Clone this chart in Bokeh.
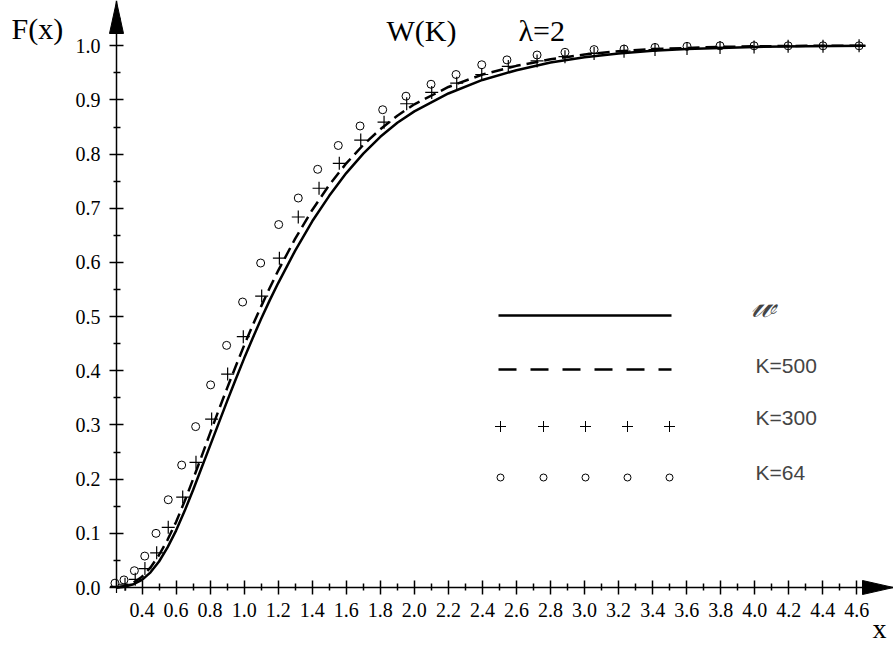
from bokeh.plotting import figure
from bokeh.models import Range1d, FixedTicker, LinearAxis, Label
from bokeh.embed import file_html
from bokeh.resources import INLINE

# ---------------- data ----------------
# limit distribution W
x_w = [0.25, 0.30, 0.35, 0.40, 0.45, 0.50, 0.55, 0.60, 0.65, 0.70, 0.75, 0.80, 0.85, 0.90,
       0.95, 1.00, 1.05, 1.10, 1.15, 1.20, 1.30, 1.40, 1.50, 1.60, 1.70, 1.80, 1.90, 2.00,
       2.20, 2.40, 2.60, 2.80, 3.00, 3.20, 3.40, 3.60, 3.80, 4.00, 4.30, 4.65]
y_w = [0.000, 0.002, 0.006, 0.014, 0.028, 0.048, 0.074, 0.105, 0.141, 0.180, 0.221, 0.262,
       0.303, 0.344, 0.384, 0.423, 0.460, 0.496, 0.530, 0.562, 0.622, 0.676, 0.723, 0.765,
       0.801, 0.832, 0.858, 0.879, 0.912, 0.937, 0.955, 0.969, 0.979, 0.986, 0.991, 0.994,
       0.996, 0.998, 0.999, 1.000]
# K = 500 (dashed)
y_k500 = [0.000, 0.003, 0.009, 0.020, 0.037, 0.060, 0.088, 0.121, 0.159, 0.200, 0.242, 0.285,
          0.327, 0.368, 0.408, 0.447, 0.484, 0.519, 0.553, 0.585, 0.644, 0.697, 0.743, 0.783,
          0.817, 0.846, 0.871, 0.892, 0.924, 0.947, 0.963, 0.975, 0.984, 0.990, 0.994, 0.996,
          0.998, 0.999, 1.000, 1.000]
# K = 300 (plus markers)
x_k300 = [0.25, 0.30, 0.36, 0.417, 0.486, 0.554, 0.639, 0.717, 0.809, 0.903, 0.995, 1.103,
          1.207, 1.318, 1.44, 1.559, 1.685, 1.822, 1.955, 2.102, 2.249, 2.396, 2.552, 2.721,
          2.885, 3.056, 3.232, 3.414, 3.602, 3.796, 3.996, 4.196, 4.401, 4.613]
y_k300 = [0.002, 0.006, 0.015, 0.035, 0.064, 0.111, 0.167, 0.231, 0.311, 0.394, 0.463, 0.538,
          0.608, 0.684, 0.737, 0.783, 0.826, 0.859, 0.893, 0.914, 0.931, 0.947, 0.962, 0.972,
          0.980, 0.986, 0.990, 0.993, 0.995, 0.997, 0.998, 0.999, 0.999, 1.000]
# K = 64 (circle markers)
x_k64 = [0.241, 0.294, 0.355, 0.416, 0.482, 0.554, 0.633, 0.715, 0.803, 0.897, 0.991, 1.097,
         1.203, 1.318, 1.432, 1.553, 1.681, 1.814, 1.951, 2.098, 2.245, 2.396, 2.544, 2.721,
         2.885, 3.056, 3.232, 3.414, 3.602, 3.796, 3.996, 4.196, 4.401, 4.613]
y_k64 = [0.008, 0.014, 0.031, 0.058, 0.100, 0.162, 0.226, 0.297, 0.374, 0.447, 0.527, 0.599,
         0.670, 0.719, 0.772, 0.816, 0.852, 0.882, 0.907, 0.929, 0.947, 0.965, 0.974, 0.983,
         0.988, 0.993, 0.994, 0.997, 0.999, 1.000, 1.000, 1.000, 1.000, 1.000]

x_ticks = [0.4, 0.6, 0.8, 1.0, 1.2, 1.4, 1.6, 1.8, 2.0, 2.2, 2.4, 2.6, 2.8, 3.0, 3.2, 3.4,
           3.6, 3.8, 4.0, 4.2, 4.4, 4.6]
x_tick_labels = ["0.4", "0.6", "0.8", "1.0", "1.2", "1.4", "1.6", "1.8", "2.0", "2.2", "2.4",
                 "2.6", "2.8", "3.0", "3.2", "3.4", "3.6", "3.8", "4.0", "4.2", "4.4", "4.6"]
x_minor = [0.3, 0.5, 0.7, 0.9, 1.1, 1.3, 1.5, 1.7, 1.9, 2.1, 2.3, 2.5, 2.7, 2.9, 3.1, 3.3,
           3.5, 3.7, 3.9, 4.1, 4.3, 4.5, 4.7]
y_ticks = [0.0, 0.1, 0.2, 0.3, 0.4, 0.5, 0.6, 0.7, 0.8, 0.9, 1.0]
y_tick_labels = ["0.0", "0.1", "0.2", "0.3", "0.4", "0.5", "0.6", "0.7", "0.8", "0.9", "1.0"]
y_minor = [0.05, 0.15, 0.25, 0.35, 0.45, 0.55, 0.65, 0.75, 0.85, 0.95, 1.05]

legend_labels = ["\U0001D4CC", "K=500", "K=300", "K=64"]

# ---------------- layout helpers (pixel -> data) ----------------
W, H = 893, 647
X0, PX0, SX = 0.25, 116.0, 170.2
PY0, SY = 587.0, 541.7


def dx(px):
    return X0 + (px - PX0) / SX


def dy(py):
    return (PY0 - py) / SY


p = figure(width=W, height=H, output_backend="svg", toolbar_location=None,
           x_range=Range1d(dx(0), dx(W)), y_range=Range1d(dy(H), dy(0)),
           x_axis_location=None, y_axis_location=None, min_border=0)
p.outline_line_color = None
p.background_fill_color = "white"
p.border_fill_color = "white"
p.grid.visible = False

serif = "Liberation Serif"
common = dict(axis_line_width=1.5, major_tick_line_width=1.5, minor_tick_line_width=1.5,
              axis_line_color="black", major_tick_line_color="black",
              minor_tick_line_color="black",
              major_label_text_font=serif, major_label_text_font_size="20px",
              major_label_text_color="black")

xaxis = LinearAxis(fixed_location=0.0, bounds=(X0, dx(W)),
                   ticker=FixedTicker(ticks=x_ticks, minor_ticks=x_minor),
                   major_label_overrides={t: s for t, s in zip(x_ticks, x_tick_labels)},
                   major_tick_in=7, major_tick_out=7, minor_tick_in=4, minor_tick_out=3,
                   major_label_standoff=8, **common)
p.add_layout(xaxis, "below")

yaxis = LinearAxis(fixed_location=X0, bounds=(0.0, dy(0)),
                   ticker=FixedTicker(ticks=y_ticks, minor_ticks=y_minor),
                   major_label_overrides={t: s for t, s in zip(y_ticks, y_tick_labels)},
                   major_tick_in=7, major_tick_out=7, minor_tick_in=4, minor_tick_out=3,
                   major_label_standoff=9, **common)
p.add_layout(yaxis, "left")

# arrow heads
p.patch([dx(PX0 - 7), dx(PX0 + 7), dx(PX0)], [dy(33), dy(33), dy(1)], color="black")
p.patch([dx(862), dx(862), dx(893)], [dy(PY0 - 7), dy(PY0 + 7), dy(PY0)], color="black")

# curves & markers
p.line(x_w, y_w, line_color="black", line_width=2.5)
p.line(x_w, y_k500, line_color="black", line_width=2.5, line_dash="12 6")
p.scatter(x_k300, y_k300, marker="cross", size=13, line_color="black", line_width=1.2)
p.scatter(x_k64, y_k64, marker="circle", size=8, fill_color=None, line_color="black",
          line_width=1)

# legend (manual, like the reference)
lx0, lx1 = 498, 671
mx = [500, 543, 585, 627, 669]
p.line([dx(lx0), dx(lx1)], [dy(315), dy(315)], line_color="black", line_width=2.5)
p.line([dx(lx0), dx(lx1)], [dy(369), dy(369)], line_color="black", line_width=2.5,
       line_dash="18 14")
p.scatter([dx(v) for v in mx], [dy(426)] * 5, marker="cross", size=11, line_color="black",
          line_width=1)
p.scatter([dx(v) for v in mx], [dy(477)] * 5, marker="circle", size=7, fill_color=None,
          line_color="black", line_width=1)

sans = "Liberation Sans"
p.add_layout(Label(x=dx(750), y=dy(304), text=legend_labels[0], text_font=serif,
                   text_font_size="36px", text_font_style="italic", text_baseline="alphabetic"))
for lab, py in zip(legend_labels[1:], [364.5, 417, 472]):
    p.add_layout(Label(x=dx(755), y=dy(py), text=lab, text_font=sans,
                       text_font_size="21px", text_baseline="alphabetic"))

# titles
for txt, px, py in [("F(x)", 11, 28), ("W(K)", 386, 30), ("\u03bb=2", 518, 30)]:
    p.add_layout(Label(x=dx(px), y=dy(py), text=txt, text_font=serif, text_font_size="30px",
                       text_baseline="alphabetic", text_color="black"))
p.add_layout(Label(x=dx(872), y=dy(628), text="x", text_font=serif, text_font_size="28px",
                   text_baseline="alphabetic", text_color="black"))

open("out.html", "w").write(file_html(p, INLINE))
